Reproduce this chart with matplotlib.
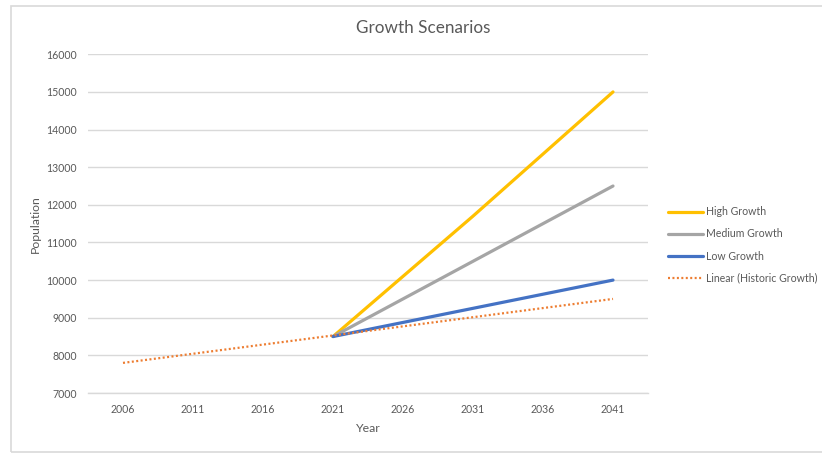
import matplotlib
matplotlib.use("Agg")
import matplotlib.pyplot as plt
from matplotlib.patches import Rectangle

plt.rcParams['font.family'] = ['Lato', 'DejaVu Sans']

years = ['2006', '2011', '2016', '2021', '2026', '2031', '2036', '2041']
proj_years = ['2021', '2026', '2031', '2036', '2041']
high_growth = [8500, 10100, 11700, 13350, 15000]
medium_growth = [8500, 9500, 10500, 11500, 12500]
low_growth = [8500, 8875, 9250, 9625, 10000]
linear_historic = [7800, 8043, 8286, 8529, 8771, 9014, 9257, 9500]

y_ticks = list(range(7000, 16001, 1000))

W, H = 822, 453
fig = plt.figure(figsize=(W / 100, H / 100), dpi=100)
fig.patch.set_facecolor('white')

# figure border
fig.add_artist(Rectangle((10.5 / W, 1 - 452 / H), 1.2, (452 - 5.5) / H,
                         transform=fig.transFigure, fill=False,
                         edgecolor='#d9d9d9', linewidth=1.2, zorder=0))

left, right = 88 / W, 648 / W
bottom, top = 1 - 393 / H, 1 - 54.3 / H
ax = fig.add_axes([left, bottom, right - left, top - bottom])

xpos = {y: i for i, y in enumerate(years)}
px = [xpos[y] for y in proj_years]
ax.plot(px, high_growth, color='#FFC000', lw=2.3, label='High Growth', solid_capstyle='round', zorder=3)
ax.plot(px, medium_growth, color='#A5A5A5', lw=2.3, label='Medium Growth', solid_capstyle='round', zorder=3)
ax.plot(px, low_growth, color='#4472C4', lw=2.3, label='Low Growth', solid_capstyle='round', zorder=3)
ax.plot(range(len(years)), linear_historic, color='#ED7D31', lw=1.6,
        linestyle=(0, (0.9, 1.1)), label='Linear (Historic Growth)', zorder=4)

ax.set_xlim(-0.5, len(years) - 0.5)
ax.set_ylim(7000, 16000)
ax.set_xticks(range(len(years)))
ax.set_xticklabels(years)
ax.set_yticks(y_ticks)
ax.set_yticklabels([str(v) for v in y_ticks])
ax.tick_params(axis='both', length=0, labelsize=7.6, colors='#595959')
ax.tick_params(axis='y', pad=8)
ax.tick_params(axis='x', pad=8)
ax.grid(axis='y', color='#d9d9d9', linewidth=1.0)
ax.set_axisbelow(True)
for s in ['top', 'right', 'left']:
    ax.spines[s].set_visible(False)
ax.spines['bottom'].set_color('#d9d9d9')
ax.spines['bottom'].set_linewidth(1.0)

ax.set_xlabel('Year', fontsize=8.8, color='#595959', labelpad=6)
ax.set_ylabel('Population', fontsize=8.8, color='#595959', labelpad=4)

fig.text(423 / W, 1 - 28 / H, 'Growth Scenarios', ha='center', va='center',
         fontsize=12.3, color='#595959')

leg = ax.legend(loc='center left', bbox_to_anchor=(664 / W, 1 - 245 / H),
                bbox_transform=fig.transFigure, frameon=False, fontsize=7.6,
                handlelength=3.3, handletextpad=0.3, labelspacing=1.05,
                borderaxespad=0)
for t in leg.get_texts():
    t.set_color('#595959')

fig.savefig('out.png', dpi=100, facecolor='white')
